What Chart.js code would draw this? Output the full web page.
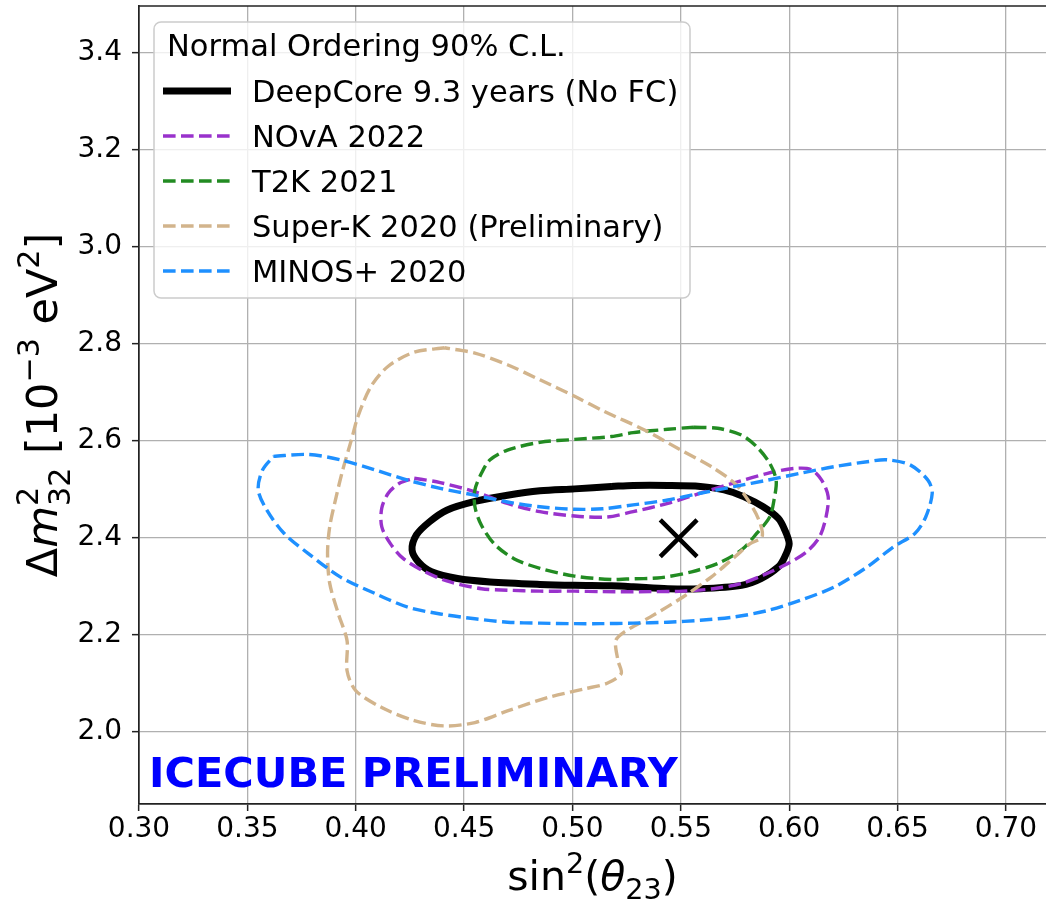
<!DOCTYPE html>
<html>
<head>
<meta charset="utf-8">
<script src="https://cdn.jsdelivr.net/npm/chart.js@4.4.1/dist/chart.umd.min.js"></script>
<style>
  body { margin: 0; background: #fff; }
  #wrap { width: 1046px; height: 900px; }
</style>
</head>
<body>
<div id="wrap"><canvas id="myChart" width="1046" height="900"></canvas></div>
<script>
// axis ticks
var xTicks = [0.30, 0.35, 0.40, 0.45, 0.50, 0.55, 0.60, 0.65, 0.70];
var xTickLabels = ['0.30', '0.35', '0.40', '0.45', '0.50', '0.55', '0.60', '0.65', '0.70'];
var yTicks = [2.0, 2.2, 2.4, 2.6, 2.8, 3.0, 3.2, 3.4];
var yTickLabels = ['2.0', '2.2', '2.4', '2.6', '2.8', '3.0', '3.2', '3.4'];

var legendTitle = 'Normal Ordering 90% C.L.';
var names = ['DeepCore 9.3 years (No FC)', 'NOvA 2022', 'T2K 2021', 'Super-K 2020 (Preliminary)', 'MINOS+ 2020'];
var colors = ['#000000', '#9932CC', '#228B22', '#D2B48C', '#1E90FF'];

// contours (sin^2 theta23, dm2 in 1e-3 eV^2)
var deepcoreX = [0.518, 0.501, 0.485, 0.470, 0.455, 0.442, 0.434, 0.428, 0.426, 0.429, 0.435, 0.447, 0.462, 0.485, 0.501, 0.518, 0.528, 0.544, 0.559, 0.578, 0.587, 0.595, 0.598, 0.600, 0.598, 0.595, 0.588, 0.579, 0.570, 0.559, 0.544, 0.528, 0.518];
var deepcoreY = [2.506, 2.501, 2.497, 2.488, 2.475, 2.457, 2.433, 2.406, 2.375, 2.350, 2.330, 2.316, 2.309, 2.304, 2.302, 2.301, 2.299, 2.295, 2.295, 2.302, 2.316, 2.340, 2.361, 2.388, 2.416, 2.440, 2.464, 2.485, 2.499, 2.506, 2.508, 2.508, 2.506];

var novaX = [0.427, 0.439, 0.455, 0.470, 0.485, 0.501, 0.516, 0.528, 0.544, 0.559, 0.575, 0.590, 0.602, 0.610, 0.615, 0.618, 0.617, 0.614, 0.608, 0.599, 0.588, 0.578, 0.565, 0.551, 0.536, 0.513, 0.501, 0.485, 0.470, 0.458, 0.442, 0.432, 0.422, 0.416, 0.412, 0.412, 0.415, 0.420, 0.427];
var novaY = [2.523, 2.514, 2.495, 2.471, 2.454, 2.445, 2.443, 2.454, 2.471, 2.492, 2.514, 2.533, 2.543, 2.541, 2.519, 2.485, 2.443, 2.402, 2.371, 2.346, 2.323, 2.306, 2.295, 2.290, 2.289, 2.289, 2.290, 2.290, 2.292, 2.295, 2.311, 2.330, 2.357, 2.388, 2.423, 2.461, 2.492, 2.512, 2.523];

var t2kX = [0.556, 0.567, 0.578, 0.585, 0.591, 0.594, 0.593, 0.591, 0.585, 0.578, 0.567, 0.555, 0.541, 0.525, 0.518, 0.501, 0.485, 0.473, 0.464, 0.458, 0.455, 0.455, 0.458, 0.462, 0.470, 0.485, 0.501, 0.518, 0.528, 0.544, 0.556];
var t2kY = [2.628, 2.626, 2.612, 2.588, 2.554, 2.519, 2.478, 2.443, 2.409, 2.375, 2.347, 2.330, 2.318, 2.315, 2.314, 2.321, 2.337, 2.357, 2.387, 2.426, 2.464, 2.499, 2.533, 2.561, 2.581, 2.597, 2.603, 2.609, 2.617, 2.624, 2.628];

var superkX = [0.441, 0.427, 0.415, 0.407, 0.401, 0.398, 0.394, 0.391, 0.388, 0.387, 0.388, 0.392, 0.396, 0.396, 0.400, 0.412, 0.427, 0.441, 0.455, 0.470, 0.489, 0.505, 0.516, 0.5225, 0.521, 0.520, 0.524, 0.536, 0.551, 0.564, 0.575, 0.582, 0.5875, 0.586, 0.581, 0.575, 0.564, 0.550, 0.533, 0.515, 0.501, 0.485, 0.470, 0.455, 0.441];
var superkY = [2.792, 2.783, 2.754, 2.712, 2.650, 2.602, 2.540, 2.485, 2.423, 2.368, 2.306, 2.243, 2.188, 2.126, 2.085, 2.050, 2.023, 2.012, 2.019, 2.043, 2.071, 2.088, 2.100, 2.120, 2.147, 2.188, 2.206, 2.237, 2.278, 2.319, 2.361, 2.388, 2.402, 2.437, 2.478, 2.512, 2.547, 2.581, 2.623, 2.660, 2.692, 2.726, 2.757, 2.781, 2.792];

var minosX = [0.362, 0.378, 0.393, 0.409, 0.424, 0.439, 0.455, 0.470, 0.485, 0.501, 0.514, 0.528, 0.544, 0.559, 0.575, 0.590, 0.605, 0.621, 0.636, 0.645, 0.656, 0.664, 0.666, 0.663, 0.658, 0.648, 0.636, 0.621, 0.605, 0.590, 0.575, 0.559, 0.544, 0.528, 0.513, 0.501, 0.485, 0.470, 0.455, 0.439, 0.424, 0.409, 0.393, 0.378, 0.367, 0.359, 0.355, 0.357, 0.362];
var minosY = [2.568, 2.572, 2.561, 2.540, 2.519, 2.502, 2.488, 2.474, 2.464, 2.459, 2.460, 2.468, 2.478, 2.492, 2.506, 2.519, 2.533, 2.547, 2.557, 2.561, 2.550, 2.519, 2.492, 2.443, 2.409, 2.381, 2.340, 2.299, 2.271, 2.250, 2.237, 2.230, 2.226, 2.224, 2.223, 2.223, 2.224, 2.226, 2.233, 2.243, 2.257, 2.285, 2.319, 2.368, 2.409, 2.457, 2.499, 2.540, 2.568];

var bestFitX = [0.549];
var bestFitY = [2.399];

var FONT = '"DejaVu Sans"';
var DASH = [12.6, 5.4];

function pts(xs, ys) {
  var out = [];
  for (var i = 0; i < xs.length; i++) out.push({x: xs[i], y: ys[i]});
  return out;
}

function contour(i, xs, ys, width, dash, order) {
  return {
    label: names[i],
    data: pts(xs, ys),
    showLine: true,
    borderColor: colors[i],
    backgroundColor: colors[i],
    borderWidth: width,
    borderDash: dash,
    borderJoinStyle: 'round',
    pointRadius: 0,
    tension: 0.3,
    fill: false,
    order: order
  };
}

// draws text with simple super/subscripts, returns width
function richText(ctx, parts, x, y, size, measureOnly) {
  var cx = x;
  for (var i = 0; i < parts.length; i++) {
    var p = parts[i];
    if (p.t !== undefined) {
      ctx.font = (p.it ? 'italic ' : '') + size + 'px ' + FONT;
      if (!measureOnly) ctx.fillText(p.t, cx, y);
      cx += ctx.measureText(p.t).width;
    } else {
      var s = size * 0.7, w = 0;
      ctx.font = s + 'px ' + FONT;
      var both = p.sup && p.sub;
      if (p.sup) {
        if (!measureOnly) ctx.fillText(p.sup, cx, y - size * (both ? 0.45 : 0.42));
        w = Math.max(w, ctx.measureText(p.sup).width);
      }
      if (p.sub) {
        if (!measureOnly) ctx.fillText(p.sub, cx, y + size * (both ? 0.3 : 0.22));
        w = Math.max(w, ctx.measureText(p.sub).width);
      }
      cx += w;
    }
  }
  return cx - x;
}

var xTitle = [{t: 'sin'}, {sup: '2'}, {t: '('}, {t: '\u03B8', it: true}, {sub: '23'}, {t: ')'}];
var yTitle = [{t: '\u0394'}, {t: 'm', it: true}, {sup: '2', sub: '32'}, {t: ' [10'}, {sup: '\u22123'}, {t: ' eV'}, {sup: '2'}, {t: ']'}];

var decor = {
  id: 'decor',
  afterDraw: function(chart) {
    var ctx = chart.ctx, a = chart.chartArea;
    ctx.save();
    // top spine
    ctx.strokeStyle = '#222';
    ctx.lineWidth = 1.7;
    ctx.beginPath();
    ctx.moveTo(a.left, a.top);
    ctx.lineTo(a.right, a.top);
    ctx.stroke();

    // watermark
    ctx.fillStyle = '#0000FF';
    ctx.font = 'bold 41.5px ' + FONT;
    ctx.textBaseline = 'alphabetic';
    ctx.textAlign = 'left';
    ctx.fillText('ICECUBE PRELIMINARY', a.left + 10, 787);

    // axis titles
    ctx.fillStyle = '#000';
    var w = richText(ctx, xTitle, 0, 0, 41, true);
    richText(ctx, xTitle, (a.left + a.right) / 2 - w / 2, 890, 41);
    ctx.save();
    ctx.translate(57, (a.top + a.bottom) / 2);
    ctx.rotate(-Math.PI / 2);
    w = richText(ctx, yTitle, 0, 0, 43, true);
    richText(ctx, yTitle, -w / 2, 0, 43);
    ctx.restore();

    // legend box
    var bx = 154, by = 22, bw = 536, bh = 276, r = 7;
    ctx.beginPath();
    ctx.moveTo(bx + r, by);
    ctx.arcTo(bx + bw, by, bx + bw, by + bh, r);
    ctx.arcTo(bx + bw, by + bh, bx, by + bh, r);
    ctx.arcTo(bx, by + bh, bx, by, r);
    ctx.arcTo(bx, by, bx + bw, by, r);
    ctx.closePath();
    ctx.fillStyle = 'rgba(255,255,255,0.8)';
    ctx.fill();
    ctx.strokeStyle = '#cccccc';
    ctx.lineWidth = 1.5;
    ctx.stroke();

    ctx.fillStyle = '#000';
    ctx.font = '30.5px ' + FONT;
    ctx.fillText(legendTitle, 167, 56);
    var sets = chart.data.datasets.filter(function(d) { return d.label; });
    sets.sort(function(p, q) { return names.indexOf(p.label) - names.indexOf(q.label); });
    for (var i = 0; i < sets.length; i++) {
      var d = sets[i], ly = 91 + i * 45;
      ctx.strokeStyle = d.borderColor;
      ctx.lineWidth = d.borderWidth;
      ctx.setLineDash(d.borderDash || []);
      ctx.beginPath();
      ctx.moveTo(163, ly);
      ctx.lineTo(231, ly);
      ctx.stroke();
      ctx.setLineDash([]);
      ctx.fillStyle = '#000';
      ctx.fillText(d.label, 252, ly + 11);
    }
    ctx.restore();
  }
};

// the plot fills the frame exactly, so label overhang must not shrink it
function noPad(s) {
  s.paddingTop = 0;
  s.paddingBottom = 0;
  s.paddingLeft = 0;
  s.paddingRight = 0;
}

var ctx = document.getElementById('myChart').getContext('2d');
var myChart = new Chart(ctx, {
  type: 'scatter',
  data: {
    datasets: [
      contour(0, deepcoreX, deepcoreY, 7, [], 6),
      contour(1, novaX, novaY, 3.4, DASH, 5),
      contour(2, t2kX, t2kY, 3.4, DASH, 4),
      contour(3, superkX, superkY, 3.4, DASH, 3),
      contour(4, minosX, minosY, 3.4, DASH, 2),
      {
        data: pts(bestFitX, bestFitY),
        pointStyle: 'crossRot',
        pointRadius: 26,
        pointBorderWidth: 4.5,
        pointBorderColor: '#000',
        borderColor: '#000',
        showLine: false,
        order: 1
      }
    ]
  },
  options: {
    responsive: false,
    devicePixelRatio: 1,
    animation: false,
    events: [],
    layout: { autoPadding: false, padding: { top: 6, left: 0, right: 0, bottom: 0 } },
    plugins: {
      legend: { display: false },
      tooltip: { enabled: false }
    },
    scales: {
      x: {
        type: 'linear',
        min: 0.30,
        max: 0.7185,
        afterBuildTicks: function(s) { s.ticks = xTicks.map(function(v) { return {value: v}; }); },
        afterFit: function(s) { s.height = 96; noPad(s); },
        ticks: {
          autoSkip: false,
          maxRotation: 0,
          padding: 2,
          color: '#000',
          font: { family: 'DejaVu Sans', size: 28 },
          callback: function(v, i) { return xTickLabels[i]; }
        },
        grid: { color: '#b0b0b0', lineWidth: 1.3, tickColor: '#222', tickLength: 7, tickWidth: 1.5 },
        border: { display: true, color: '#222', width: 1.7 }
      },
      y: {
        type: 'linear',
        min: 1.851,
        max: 3.497,
        afterBuildTicks: function(s) { s.ticks = yTicks.map(function(v) { return {value: v}; }); },
        afterFit: function(s) { s.width = 139; noPad(s); },
        ticks: {
          autoSkip: false,
          padding: 10,
          color: '#000',
          font: { family: 'DejaVu Sans', size: 28 },
          callback: function(v, i) { return yTickLabels[i]; }
        },
        grid: { color: '#b0b0b0', lineWidth: 1.3, tickColor: '#222', tickLength: 7, tickWidth: 1.5 },
        border: { display: true, color: '#222', width: 1.7 }
      }
    }
  },
  plugins: [decor]
});
</script>
</body>
</html>
